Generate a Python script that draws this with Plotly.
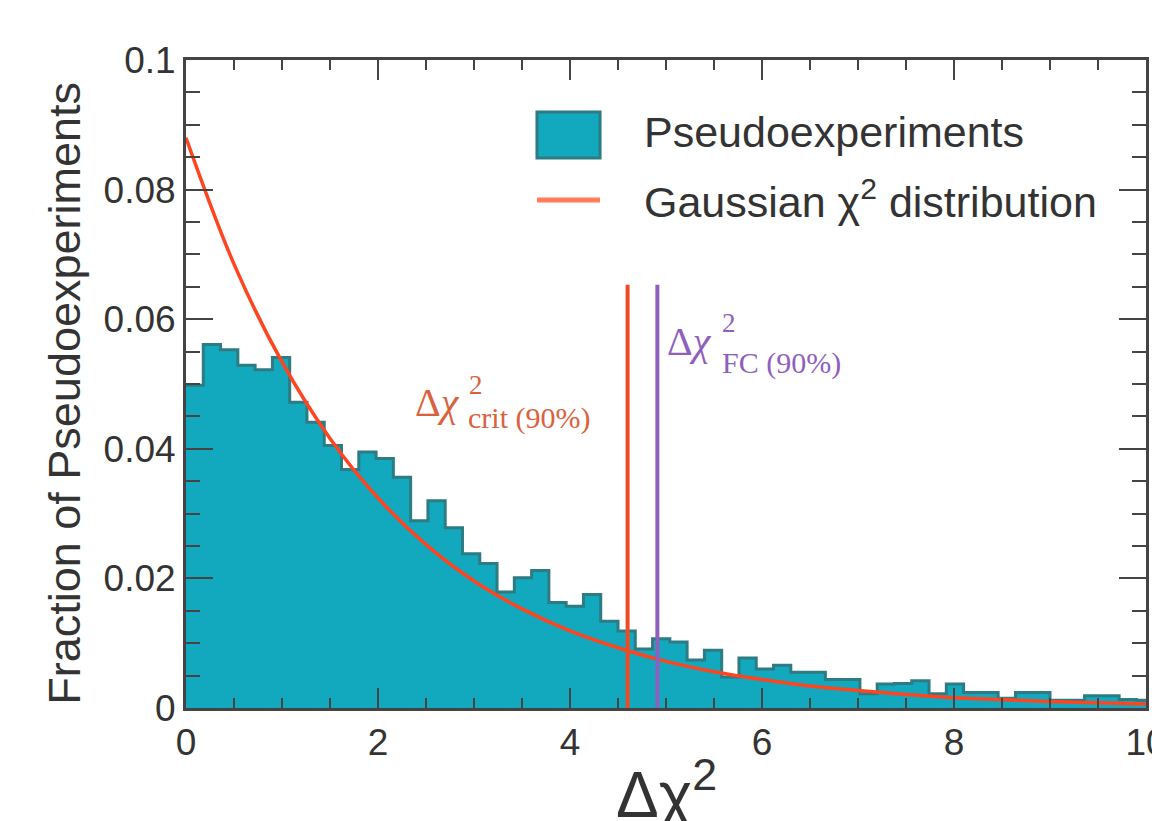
import plotly.graph_objects as go

# ---------------- data ----------------
bin_start = 0.0
bin_width = 0.18
pseudo_frac = [
    0.0498, 0.0561, 0.0553, 0.0529, 0.0522, 0.0541, 0.0472, 0.0441, 0.0405, 0.0368,
    0.0395, 0.0385, 0.0356, 0.0289, 0.0320, 0.0278, 0.0238, 0.0223, 0.0179, 0.0201,
    0.0212, 0.0163, 0.0157, 0.0175, 0.0134, 0.0119, 0.0091, 0.0107, 0.0102, 0.0074,
    0.0089, 0.0048, 0.0077, 0.0060, 0.0066, 0.0055, 0.0055, 0.0044, 0.0044, 0.0022,
    0.0037, 0.0038, 0.0042, 0.0022, 0.0037, 0.0024, 0.0024, 0.0015, 0.0024, 0.0024,
    0.0012, 0.0012, 0.0019, 0.0019, 0.0013, 0.0012,
]

gauss_x = [0, 0.5, 1, 1.5, 2, 2.5, 3, 3.5, 4, 4.5, 5, 5.5, 6, 6.5, 7, 7.5, 8, 8.5, 9, 9.5, 10]
gauss_y = [0.0880, 0.0685, 0.0534, 0.0416, 0.0324, 0.0252, 0.0196, 0.0153, 0.0119, 0.0093,
           0.0072, 0.0056, 0.0044, 0.0034, 0.0027, 0.0021, 0.0016, 0.0013, 0.0010, 0.0008, 0.0006]

crit_x = 4.60
fc_x = 4.91
line_top = 0.0653

x_ticks = [0, 2, 4, 6, 8, 10]
y_ticks = [0, 0.02, 0.04, 0.06, 0.08, 0.1]
y_tick_text = ["0", "0.02", "0.04", "0.06", "0.08", "0.1"]

# ---------------- figure ----------------
edges = [bin_start + i * bin_width for i in range(len(pseudo_frac) + 1)]
step_y = pseudo_frac + [pseudo_frac[-1]]

TEAL = "#12a9be"
TEAL_EDGE = "#2d7b83"
RED = "#ff4420"
CRIT = "#ee4a28"
CRIT_TXT = "#d9623e"
PURPLE = "#8f5fbf"
AX = "#444444"
TXT = "#333333"

fig = go.Figure()
fig.add_trace(go.Scatter(
    x=edges, y=step_y, mode="lines", line=dict(shape="hv", color=TEAL_EDGE, width=3),
    fill="tozeroy", fillcolor=TEAL, name="Pseudoexperiments", hoverinfo="skip"))
fig.add_trace(go.Scatter(
    x=gauss_x, y=gauss_y, mode="lines", line=dict(shape="spline", color=RED, width=3.5),
    name="Gaussian χ² distribution"))
fig.add_trace(go.Scatter(
    x=[crit_x, crit_x], y=[0, line_top], mode="lines", line=dict(color=CRIT, width=4)))
fig.add_trace(go.Scatter(
    x=[fc_x, fc_x], y=[0, line_top], mode="lines", line=dict(color=PURPLE, width=4)))

font_main = "Liberation Sans, Arial, sans-serif"
font_math = "Liberation Serif, DejaVu Serif, serif"

fig.update_layout(
    width=1152, height=821,
    margin=dict(l=186, r=6, t=60, b=113, pad=0, autoexpand=False),
    paper_bgcolor="white", plot_bgcolor="white",
    showlegend=False,
    font=dict(family=font_main, color=TXT),
)
fig.update_xaxes(
    range=[0, 10], tickvals=x_ticks, ticktext=[str(v) for v in x_ticks],
    showgrid=False, zeroline=False, showline=True, linecolor=AX, linewidth=3, mirror="ticks",
    ticks="inside", ticklen=20, tickwidth=2, tickcolor=AX, ticklabeloverflow="allow",
    automargin=False,
    minor=dict(ticks="inside", dtick=0.5, ticklen=10, tickwidth=2, tickcolor=AX),
    tickfont=dict(size=37, color=TXT, family=font_main),
)
fig.update_yaxes(
    range=[0, 0.1], tickvals=y_ticks, ticktext=y_tick_text,
    showgrid=False, zeroline=False, showline=True, linecolor=AX, linewidth=3, mirror="ticks",
    ticks="inside", ticklen=27, tickwidth=2, tickcolor=AX, ticklabeloverflow="allow",
    automargin=False,
    minor=dict(ticks="inside", dtick=0.005, ticklen=14, tickwidth=2, tickcolor=AX),
    tickfont=dict(size=37, color=TXT, family=font_main),
)

ann = []
# axis titles
ann.append(dict(xref="paper", yref="paper", x=-0.126, y=0.485, text="Fraction of Pseudoexperiments",
                textangle=-90, showarrow=False, font=dict(size=45, color=TXT, family=font_main),
                xanchor="center", yanchor="middle"))
ann.append(dict(xref="paper", yref="paper", x=0.5, y=-0.06, text="Δχ<sup>2</sup>",
                showarrow=False, font=dict(size=64, color=TXT, family=font_main),
                xanchor="center", yanchor="top"))
# legend
ann.append(dict(xref="paper", yref="paper", x=0.475, y=0.889, text="Pseudoexperiments",
                showarrow=False, font=dict(size=43, color=TXT, family=font_main),
                xanchor="left", yanchor="middle"))
ann.append(dict(xref="paper", yref="paper", x=0.475, y=0.786, text="Gaussian χ<sup>2</sup> distribution",
                showarrow=False, font=dict(size=43, color=TXT, family=font_main),
                xanchor="left", yanchor="middle"))
# line labels
ann.append(dict(x=2.36, y=0.0472, text="Δ<i>χ</i>", showarrow=False,
                font=dict(size=40, color=CRIT_TXT, family=font_math), xanchor="left", yanchor="middle"))
ann.append(dict(x=2.93, y=0.0498, text="2", showarrow=False,
                font=dict(size=27, color=CRIT_TXT, family=font_math), xanchor="left", yanchor="middle"))
ann.append(dict(x=2.92, y=0.0447, text="crit (90%)", showarrow=False,
                font=dict(size=30, color=CRIT_TXT, family=font_math), xanchor="left", yanchor="middle"))
ann.append(dict(x=4.99, y=0.0565, text="Δ<i>χ</i>", showarrow=False,
                font=dict(size=40, color=PURPLE, family=font_math), xanchor="left", yanchor="middle"))
ann.append(dict(x=5.56, y=0.0594, text="2", showarrow=False,
                font=dict(size=27, color=PURPLE, family=font_math), xanchor="left", yanchor="middle"))
ann.append(dict(x=5.56, y=0.0533, text="FC (90%)", showarrow=False,
                font=dict(size=30, color=PURPLE, family=font_math), xanchor="left", yanchor="middle"))
fig.update_layout(annotations=ann)

# legend symbols
fig.add_shape(type="rect", xref="paper", yref="paper", x0=0.3656, x1=0.4313, y0=0.8486, y1=0.9197,
              fillcolor=TEAL, line=dict(color=TEAL_EDGE, width=3))
fig.add_shape(type="line", xref="paper", yref="paper", x0=0.3656, x1=0.4313, y0=0.7838, y1=0.7838,
              line=dict(color="#ff7b5c", width=5))

fig.write_html(
    "out.html",
    config={"displayModeBar": False},
    post_script="document.body.style.margin='0';document.body.style.overflow='hidden';"
                "document.documentElement.style.overflow='hidden';",
)
